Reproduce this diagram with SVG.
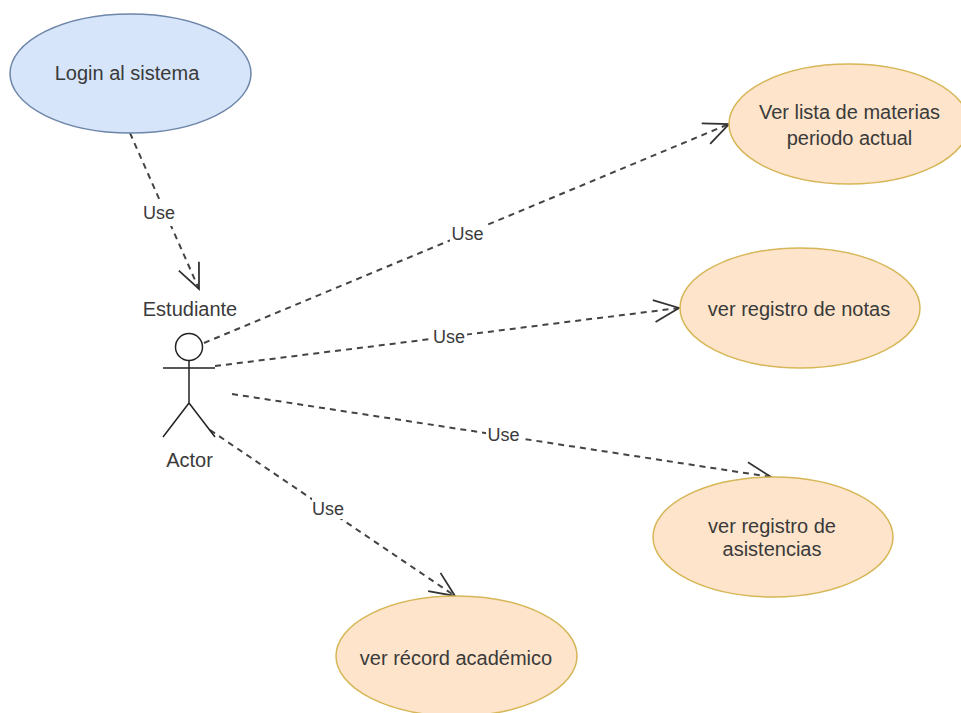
<svg xmlns="http://www.w3.org/2000/svg" width="961" height="713" viewBox="0 0 961 713">
<style>
text{font-family:"Liberation Sans",Arial,sans-serif;font-size:20px;fill:#3a3a3a;text-anchor:middle}
text.u{font-size:18px}
.uc{fill:#fde4ca;stroke:#d6b656;stroke-width:1.5}
.lg{fill:#d6e5f9;stroke:#6c85a8;stroke-width:1.5}
.c{fill:none;stroke:#444;stroke-width:2;stroke-dasharray:6 5}
.bg{fill:#fff}
</style>
<defs><marker id="open" markerUnits="userSpaceOnUse" markerWidth="34" markerHeight="34" refX="28" refY="14" orient="auto" viewBox="0 0 34 28"><path d="M3 3L28 14L3 25" fill="none" stroke="#333" stroke-width="1.8"/></marker></defs>
<rect width="961" height="713" fill="#fff"/>
<g id="connectors">
<path class="c" d="M130 133L199 289" marker-end="url(#open)"/>
<path class="c" d="M204 343L729 124" marker-end="url(#open)"/>
<path class="c" d="M215 366L679 308" marker-end="url(#open)"/>
<path class="c" d="M232 394L771 477" marker-end="url(#open)"/>
<path class="c" d="M210 430L455 596" marker-end="url(#open)"/>
<rect class="bg" x="142" y="203" width="34" height="23"/><text class="u" x="159" y="219">Use</text>
<rect class="bg" x="450" y="224" width="37" height="20"/><text class="u" x="467.500" y="240">Use</text>
<rect class="bg" x="432" y="328" width="35" height="20"/><text class="u" x="449" y="343">Use</text>
<rect class="bg" x="486" y="426" width="36" height="20"/><text class="u" x="503.500" y="441">Use</text>
<rect class="bg" x="312" y="497" width="34" height="22"/><text class="u" x="328" y="515">Use</text>
</g>
<g id="login"><ellipse class="lg" cx="130.500" cy="73.500" rx="120.500" ry="59.500"/><text x="127" y="80">Login al sistema</text></g>
<g id="actor"><text x="190" y="316">Estudiante</text>
<g fill="none" stroke="#222" stroke-width="1.5"><circle cx="189" cy="347" r="13.500"/><path d="M189 361V403M163 368H215M189 403L163 437M189 403L215 437"/></g>
<text x="189.500" y="467">Actor</text></g>
<g id="materias"><ellipse class="uc" cx="849" cy="124" rx="120" ry="60"/><text x="849.500" y="119">Ver lista de materias</text><text x="849.500" y="145">periodo actual</text></g>
<g id="notas"><ellipse class="uc" cx="800" cy="308" rx="120" ry="60"/><text x="799" y="316">ver registro de notas</text></g>
<g id="asistencias"><ellipse class="uc" cx="773" cy="537" rx="120" ry="60"/><text x="772" y="533">ver registro de</text><text x="772" y="556">asistencias</text></g>
<g id="record"><ellipse class="uc" cx="456.500" cy="656" rx="120.500" ry="60"/><text x="456" y="665">ver récord académico</text></g>
</svg>
